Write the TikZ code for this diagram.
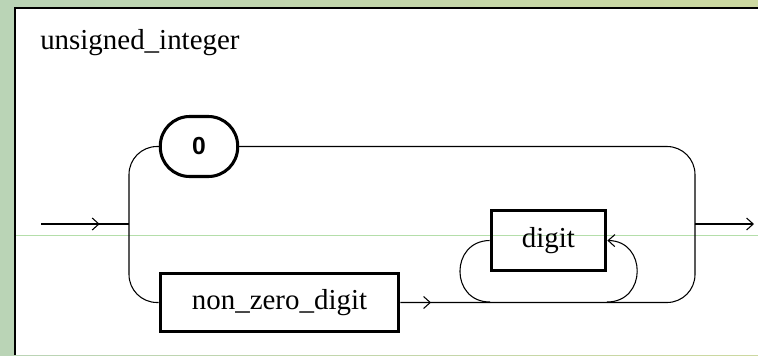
\documentclass[tikz,border=0pt]{standalone}
\usepackage{fontspec}
\setmainfont{Liberation Serif}
\newfontfamily\digitfont{Liberation Sans}
\usetikzlibrary{arrows.meta,decorations.markings}
\definecolor{bgleft}{RGB}{186,212,182}
\definecolor{bgright}{RGB}{204,216,160}
\definecolor{guide}{RGB}{180,222,170}
\tikzset{
  conn/.style={line width=0.8pt,black},
  term/.style={draw,line width=2.3pt,rounded corners=22pt,minimum width=58pt,minimum height=45pt,inner sep=0pt,font=\digitfont\bfseries\fontsize{18.5}{22}\selectfont},
  nonterm/.style={draw,line width=2.3pt,inner sep=0pt,font=\fontsize{21.7}{26}\selectfont},
  barb/.style={-{Straight Barb[length=5pt,width=9pt]}},
  markarrow/.style={postaction={decorate},decoration={markings,mark=at position #1 with {\arrow{Straight Barb[length=5pt,width=9pt]}}}}
}
\begin{document}
\begin{tikzpicture}[x=0.75pt,y=-0.75pt]
\useasboundingbox (0,0) rectangle (758,355);
\shade[left color=bgleft,right color=bgright] (0,0) rectangle (758,355);
\fill[white] (15,8) rectangle (758,355);
\draw[line width=2.2pt] (15,355) -- (15,8) -- (758,8);
\draw[guide,line width=0.7pt] (16,235) -- (758,235);
\node[anchor=base west,font=\fontsize{21.7}{26}\selectfont,inner sep=0pt] (title) at (40,49) {unsigned\_integer};
\node[term] (zero) at (199,146.5) {0};
\node[nonterm,minimum width=179pt,minimum height=44pt] (nzd) at (279.5,302.5) {non\_zero\_digit};
\node[nonterm,minimum width=86pt,minimum height=45.5pt] (digit) at (548.5,240.5) {digit};
\coordinate (in) at (41,224);
\coordinate (jl) at (129,224);
\coordinate (jr) at (695,224);
\coordinate (out) at (754,224);
\coordinate (bl) at (490,302);
\coordinate (br) at (607,302);
\draw[conn,markarrow=44pt] (in) -- (jl);
\draw[conn,rounded corners=21pt] (zero.west) -| (jl) |- (nzd.west);
\draw[conn,rounded corners=21pt] (zero.east) -| (jr);
\draw[conn,rounded corners=21pt,markarrow=23pt] (nzd.east) -| (jr);
\draw[conn,barb] (jr) -- (out);
\draw[conn] (digit.west) .. controls (450,241) and (450,302) .. (bl);
\draw[conn,barb] (br) .. controls (647,302) and (647,241) .. (digit.east);
\end{tikzpicture}
\end{document}
